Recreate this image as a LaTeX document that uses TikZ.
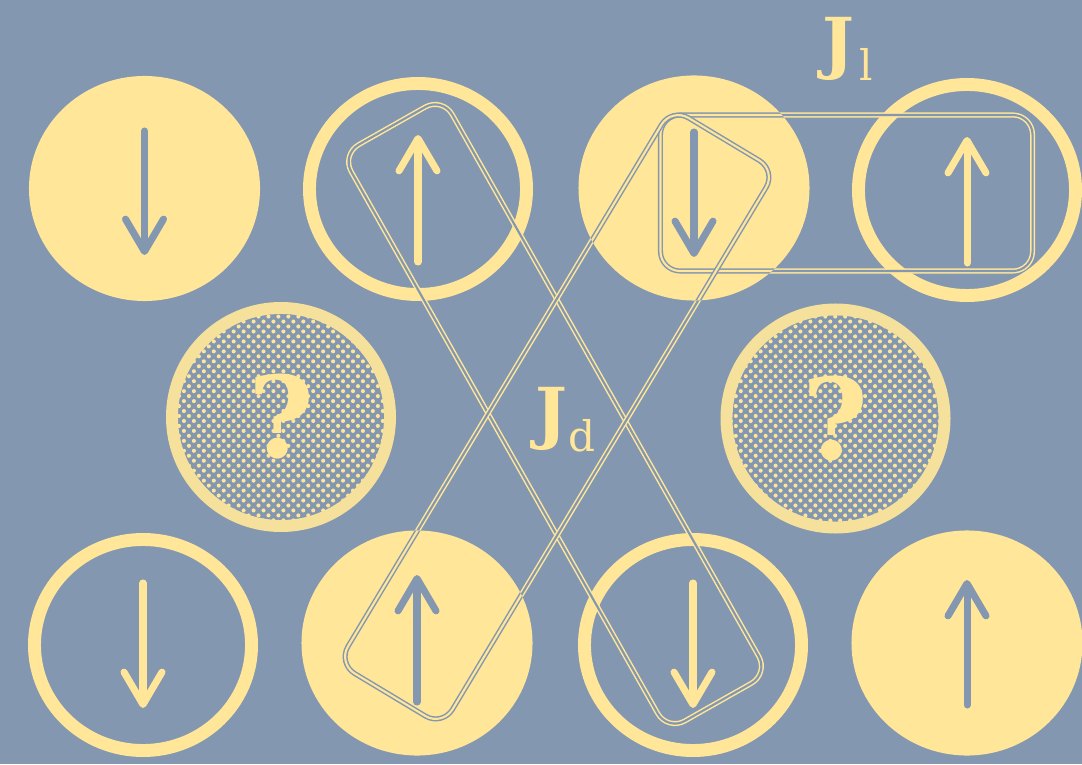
\documentclass[tikz,border=0pt]{standalone}
\usepackage{fontspec}
\setmainfont{DejaVu Serif}
\usetikzlibrary{positioning,arrows.meta,shapes.geometric,patterns.meta,calc}

\definecolor{slate}{HTML}{8497B0}
\definecolor{butter}{HTML}{FFE699}
\definecolor{paleButter}{HTML}{F5E09C}

\begin{document}
\begin{tikzpicture}[
    x=0.025cm, y=0.025cm,
    spinfull/.style={ellipse, fill=butter, inner sep=0pt,
                     minimum width=5.775cm, minimum height=5.625cm},
    spinring/.style={ellipse, draw=butter, line width=9.2pt, inner sep=0pt,
                     minimum width=5.425cm, minimum height=5.275cm},
    unknown/.style={circle, draw=paleButter, line width=8.5pt, minimum size=5.45cm, inner sep=0pt,
                    pattern={Dots[distance=5pt, radius=1.45pt, angle=45]}, pattern color=butter,
                    text=butter, font=\fontsize{80}{80}\selectfont\bfseries},
    bond/.style={rectangle, rounded corners=14pt, draw=butter, double=slate,
                 line width=1.05pt, double distance=1.5pt, inner sep=0pt},
    bondin/.style={bond, draw=slate, double=butter},
    diagdown/.style={rotate=-60.5, minimum width=16.55cm, minimum height=2.9cm},
    diagup/.style={rotate=59, minimum width=16.2cm, minimum height=3.05cm},
    rowbox/.style={minimum width=9.3cm, minimum height=3.9cm},
    spinarr/.style={line width=5pt, line cap=round, -{Straight Barb[length=23pt, width=27pt, round]}},
    coupling/.style={text=butter, inner sep=0pt, anchor=base west, font=\fontsize{48}{48}\selectfont\bfseries},
  ]
    \fill[slate] (0,0) rectangle (1082,764);
    \clip (0,0) rectangle (1082,764);

    % Top row of spins
    \node[spinfull] (top1) at (144.5,575.5) {};
    \node[spinring] (top2) at (418,575) {};
    \node[spinfull] (top3) at (694,576) {};
    \node[spinring] (top4) at (967,574) {};

    % Unknown spins (middle)
    \node[unknown] (mid1) at (281,347) {?};
    \node[unknown] (mid2) at (835.5,345.5) {?};

    % Bottom row of spins
    \node[spinring] (bot1) at (143,119) {};
    \node[spinfull] (bot2) at (417,121) {};
    \node[spinring] (bot3) at (693,119) {};
    \node[spinfull] (bot4) at (967,121) {};

    % Bond boxes
    \node[bond, rowbox] (bondl) at (846.5,571) {};
    \node[bond, diagdown] (bondd1) at (555,350) {};
    \node[bond, diagup] (bondd2) at (557,347) {};

    % same boxes, inverted where they cross a filled spin
    \begin{scope}
      \clip (top1.center) ellipse [x radius=2.8875cm, y radius=2.8125cm]
            (top3.center) ellipse [x radius=2.8875cm, y radius=2.8125cm]
            (bot2.center) ellipse [x radius=2.8875cm, y radius=2.8125cm]
            (bot4.center) ellipse [x radius=2.8875cm, y radius=2.8125cm];
      \node[bondin, rowbox] (bondlin) at (846.5,571) {};
      \node[bondin, diagdown] (bondd1in) at (555,350) {};
      \node[bondin, diagup] (bondd2in) at (557,347) {};
    \end{scope}

    % Spin arrows
    \draw[spinarr, slate]  ($(top1)+(0,57.5)$) -- ($(top1)+(0,-66.5)$);
    \draw[spinarr, butter] ($(top2)+(0,-73)$)  -- ($(top2)+(0,54)$);
    \draw[spinarr, slate]  ($(top3)+(0,56)$)   -- ($(top3)+(0,-69)$);
    \draw[spinarr, butter] ($(top4)+(0,-73)$)  -- ($(top4)+(0,53)$);
    \draw[spinarr, butter] ($(bot1)+(0,62)$)   -- ($(bot1)+(0,-63)$);
    \draw[spinarr, slate]  ($(bot2)+(0,-59)$)  -- ($(bot2)+(0,68)$);
    \draw[spinarr, butter] ($(bot3)+(0,62)$)   -- ($(bot3)+(0,-63)$);
    \draw[spinarr, slate]  ($(bot4)+(0,-62)$)  -- ($(bot4)+(0,63)$);

    % Couplings
    \node[coupling] (Jd) at (535,313) {\raisebox{0.22em}{J}\kern1pt{\mdseries\fontsize{30}{30}\selectfont d}};
    \node[coupling] (Jl) at (822,683) {\raisebox{0.22em}{J}\kern4pt{\mdseries\fontsize{30}{30}\selectfont l}};
  \end{tikzpicture}
\end{document}
